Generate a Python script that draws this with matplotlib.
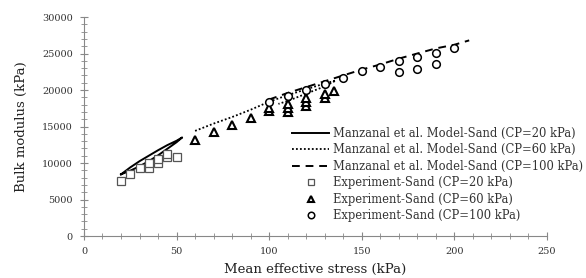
import matplotlib.pyplot as plt
from matplotlib.ticker import MultipleLocator

# model curves (loading then unloading branch)
m20_x = [20, 25, 30, 35, 40, 45, 50, 53, 50, 45, 40, 35, 30, 25, 20]
m20_y = [8450, 9400, 10250, 11000, 11750, 12450, 13050, 13500,
         12850, 11950, 11050, 10250, 9550, 8950, 8450]

m60_x = [60, 70, 80, 90, 100, 110, 120, 130, 136, 130, 120, 110, 105]
m60_y = [14400, 15400, 16300, 17300, 18400, 19300, 20100, 20900, 21300,
         20500, 19500, 18500, 18100]

m100_x = [100, 110, 120, 130, 140, 150, 160, 170, 180, 190, 200, 208]
m100_y = [18700, 19600, 20400, 21200, 22000, 22800, 23500, 24300, 25000,
          25700, 26200, 26800]

# experiments
e20_x = [20, 25, 30, 35, 35, 40, 40, 45, 45, 50]
e20_y = [7500, 8500, 9300, 9300, 10000, 10000, 10600, 10800, 11300, 10800]

e60_x = [60, 70, 80, 90, 100, 100, 110, 110, 110, 120, 120, 120, 130, 130, 135]
e60_y = [13200, 14200, 15200, 16200, 17100, 17600, 17000, 17600, 18100,
         17800, 18300, 18900, 18900, 19400, 19800]

e100_x = [100, 110, 120, 130, 140, 150, 160, 170, 170, 180, 180, 190, 190, 200]
e100_y = [18400, 19200, 20000, 20800, 21700, 22600, 23200, 24000, 22500,
          24500, 22900, 25100, 23600, 25800]

plt.rcParams['font.family'] = ['DejaVu Serif']

fig, ax = plt.subplots(figsize=(5.86, 2.78), dpi=100)
fig.subplots_adjust(left=0.1433, right=0.9334, bottom=0.151, top=0.9388)

ax.plot(m20_x, m20_y, color='black', lw=1.4, label='Manzanal et al. Model-Sand (CP=20 kPa)')
ax.plot(m60_x, m60_y, color='black', lw=1.3, ls=(0, (1, 1.2)),
        label='Manzanal et al. Model-Sand (CP=60 kPa)')
ax.plot(m100_x, m100_y, color='black', lw=1.4, ls=(0, (4, 3)),
        label='Manzanal et al. Model-Sand (CP=100 kPa)')

ax.plot(e20_x, e20_y, ls='none', marker='s', ms=5.5, mfc='white', mec='#555555',
        mew=0.9, label='Experiment-Sand (CP=20 kPa)')
ax.plot(e60_x, e60_y, ls='none', marker='^', ms=5.5, mfc='white', mec='black',
        mew=1.5, label='Experiment-Sand (CP=60 kPa)')
ax.plot(e100_x, e100_y, ls='none', marker='o', ms=5.5, mfc='white', mec='black',
        mew=1.1, label='Experiment-Sand (CP=100 kPa)')

ax.set_xlim(0, 250)
ax.set_ylim(0, 30000)
ax.xaxis.set_major_locator(MultipleLocator(50))
ax.xaxis.set_minor_locator(MultipleLocator(10))
ax.yaxis.set_major_locator(MultipleLocator(5000))
ax.yaxis.set_minor_locator(MultipleLocator(1000))
ax.tick_params(which='both', direction='inout', color='#888888', labelsize=7,
               labelcolor='#333333')
ax.tick_params(which='major', length=6, pad=5)
ax.tick_params(which='minor', length=5)

for s in ['top', 'right']:
    ax.spines[s].set_visible(False)
for s in ['left', 'bottom']:
    ax.spines[s].set_color('#888888')

ax.set_xlabel('Mean effective stress (kPa)', fontsize=9.5, color='#222222', labelpad=5)
ax.set_ylabel('Bulk modulus (kPa)', fontsize=9.5, color='#222222', labelpad=10)

ax.legend(loc='upper left', bbox_to_anchor=(0.44, 0.52), frameon=False,
          fontsize=8.3, handlelength=3.2, handletextpad=0.3, labelspacing=0.3,
          borderaxespad=0, labelcolor='#333333', markerscale=0.85)

fig.savefig('out.png', dpi=100)
